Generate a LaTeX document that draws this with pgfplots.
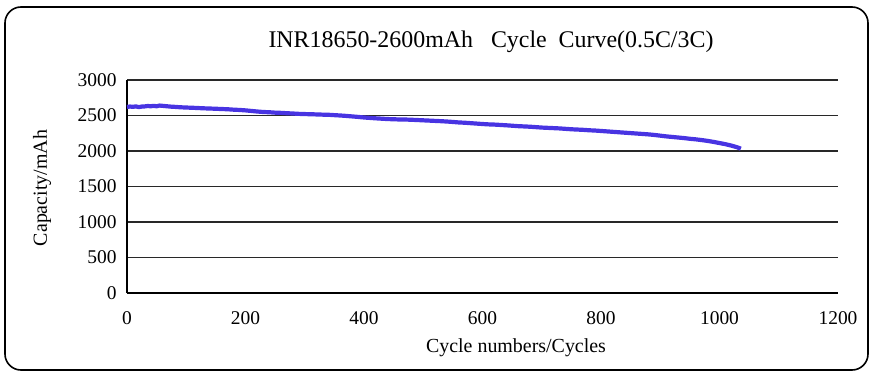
\documentclass[border=0pt]{standalone}
\usepackage{pgfplots}
\pgfplotsset{compat=1.18}
\usepackage{fontspec}
\setmainfont{Liberation Serif}
\definecolor{linec}{RGB}{72,52,226}
\definecolor{gridc}{RGB}{40,40,40}
\begin{document}
\begin{tikzpicture}[x=1bp,y=1bp]
\useasboundingbox (0,0) rectangle (873,377);
\draw[line width=1.6bp, rounded corners=16bp] (5,7) rectangle (868,370);
\begin{axis}[at={(127bp,84bp)}, anchor=south west, scale only axis,
  width=711bp, height=213bp,
  xmin=0, xmax=1200, ymin=0, ymax=3000,
  xtick={0,200,...,1200}, ytick={0,500,...,3000},
  axis x line=bottom, axis y line=left,
  axis line style={-, line width=1.5bp, black},
  major tick length=0pt,
  ymajorgrids, grid style={gridc, line width=1.4bp},
  /pgf/number format/assume math mode=true,
  /pgf/number format/1000 sep={},
  tick label style={font=\fontsize{19.5}{19.5}\selectfont},
  xticklabel style={yshift=-15bp},
  yticklabel style={xshift=-7bp},
  clip=false]
\addplot[linec, line width=4.2bp, line join=round] coordinates {
(0,2620)(5,2626)(10,2622)(15,2628)(20,2618)(25,2626)(30,2628)(35,2634)(40,2630)(45,2636)(50,2630)(55,2640)(60,2636)(65,2632)(70,2628)(75,2624)
(80,2622)(90,2616)(100,2612)(110,2609)(120,2605)(130,2601)(140,2598)(150,2595)(160,2591)(170,2588)(180,2582)(190,2578)
(200,2572)(210,2564)(220,2556)(230,2549)(240,2546)(250,2540)(260,2537)(270,2532)(280,2528)(290,2523)
(300,2520)(310,2518)(320,2515)(330,2512)(340,2510)(350,2505)(360,2500)(370,2494)(380,2487)(390,2480)
(400,2472)(410,2466)(420,2460)(430,2455)(440,2450)(450,2447)(460,2444)(470,2443)(480,2440)(490,2436)
(500,2432)(510,2428)(520,2424)(530,2420)(540,2415)(550,2409)(560,2402)(570,2398)(580,2392)(590,2386)
(600,2380)(610,2375)(620,2372)(630,2367)(640,2362)(650,2356)(660,2350)(670,2346)(680,2342)(690,2336)
(700,2330)(710,2326)(720,2322)(730,2318)(740,2312)(750,2306)(760,2302)(770,2298)(780,2292)(790,2288)
(800,2282)(810,2276)(820,2270)(830,2264)(840,2258)(850,2252)(860,2246)(870,2240)(880,2234)(890,2226)
(900,2216)(910,2206)(920,2198)(930,2190)(940,2182)(950,2172)(960,2164)(970,2154)(980,2142)(990,2128)
(1000,2112)(1010,2096)(1020,2076)(1030,2052)(1036,2032)
};
\end{axis}
\node[font=\fontsize{24}{24}\selectfont] at (491,335) {INR18650-2600mAh\ \ \ Cycle\ \ Curve(0.5C/3C)};
\node[font=\fontsize{20}{20}\selectfont] at (516,29) {Cycle numbers/Cycles};
\node[font=\fontsize{20}{20}\selectfont, rotate=90] at (42,189) {Capacity/mAh};
\end{tikzpicture}
\end{document}
